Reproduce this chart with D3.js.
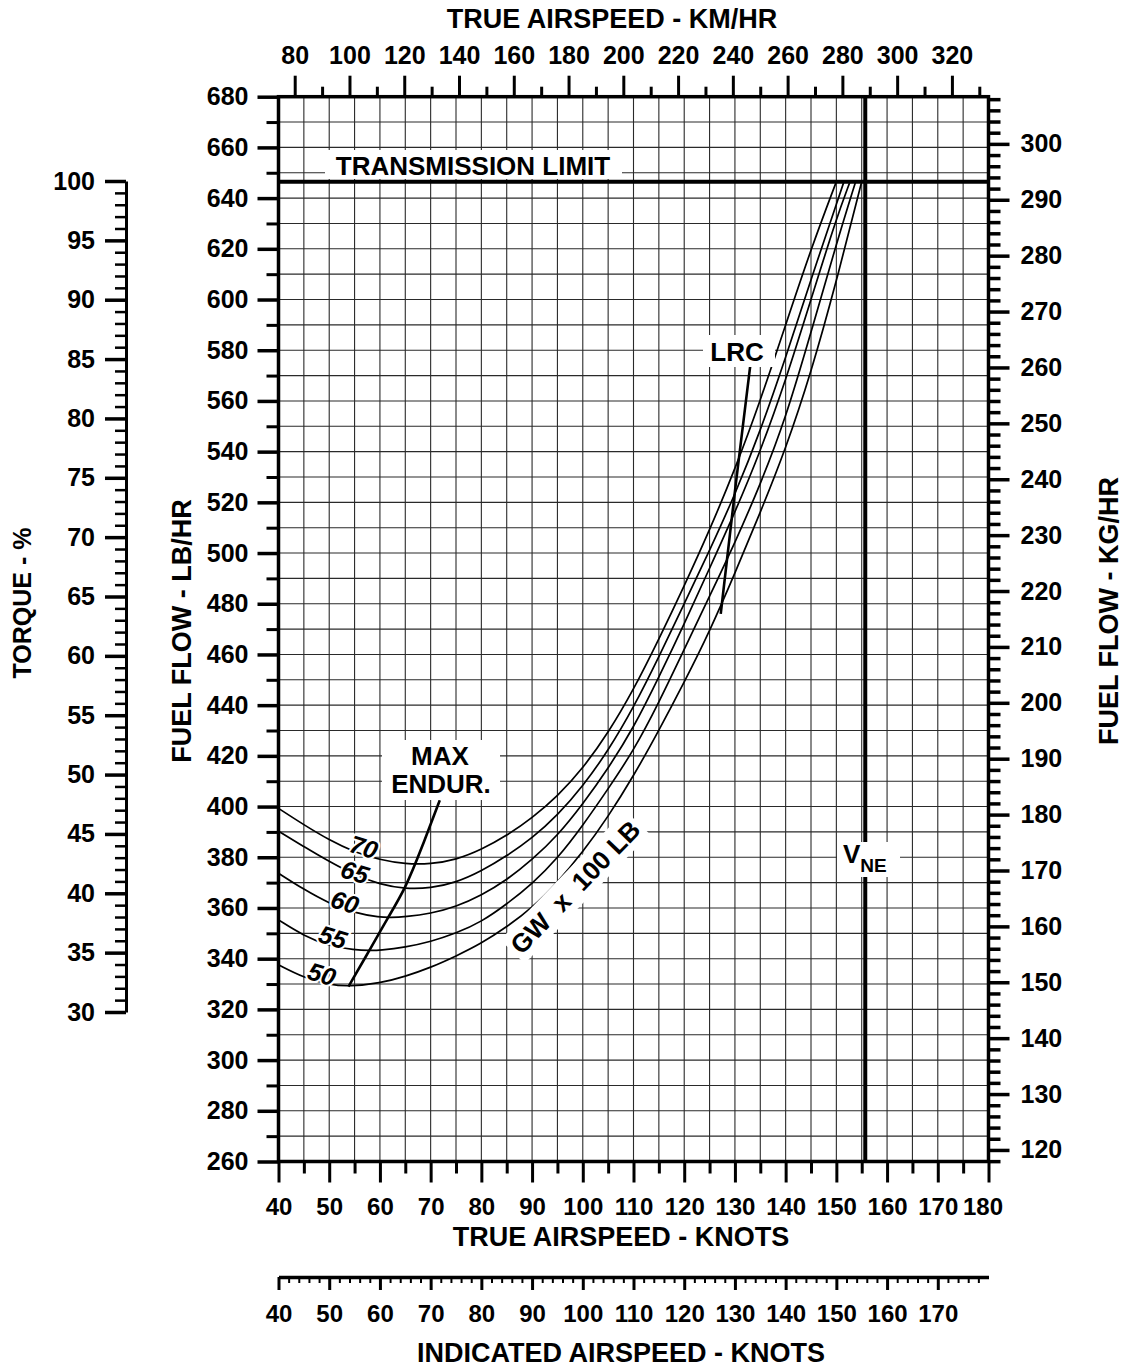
<!DOCTYPE html>
<html>
<head>
<meta charset="utf-8">
<script src="https://cdn.jsdelivr.net/npm/d3@7"></script>
<style>
  body { margin: 0; background: #fff; }
</style>
</head>
<body>
<div id="canvas"></div>
<script>
"use strict";

/* Data: fuel flow (lb/hr) against true airspeed (knots) */
let gw50 = [[40,337.6],[45,332.5],[50,329.7],[54,329],[60,330.3],[65,333],[70,336.5],[75,341],[80,346],[85,352.5],[90,360],[95,370],[100,382],[105,396],[110,412],[115,430],[120,449],[125,469],[130,492],[135,516],[140,541],[145,571],[150,607],[155,646.5]];
let gw55 = [[40,355.3],[45,349],[50,345],[55,343.5],[58,343.2],[60,343.3],[65,344.5],[70,346.7],[75,350],[80,354.5],[85,361.5],[90,369.5],[95,379.5],[100,392.5],[105,407],[110,422],[115,441],[120,462],[125,483],[130,504],[135,527],[140,553],[145,587],[150,622],[153.8,646.5]];
let gw60 = [[40,373.7],[45,367.3],[50,361.8],[55,358],[60,356.3],[62,356.2],[65,356.5],[70,357.8],[75,360.5],[80,365],[85,371],[90,379],[95,388.5],[100,401],[105,415],[110,431],[115,451],[120,472],[125,494],[130,516],[135,540],[140,568],[145,600],[150,632],[152.7,646.5]];
let gw65 = [[40,390.3],[45,384.2],[50,378.3],[55,373],[60,369.3],[65,367.5],[70,367.8],[75,370],[80,374.5],[85,380.5],[90,387.5],[95,396.5],[100,408],[105,422],[110,439],[115,459],[120,480],[125,501],[130,523],[135,548],[140,577],[145,608],[151.5,646.5]];
let gw70 = [[40,399.3],[45,392.8],[50,386.8],[55,382],[60,379],[65,377.3],[70,377.3],[75,379],[80,383],[85,388.5],[90,395.5],[95,404],[100,415],[105,429],[110,446],[115,466],[120,487],[125,509],[130,533],[135,560],[140,590],[145,620],[150,646.5]];
let gwCurves = [gw50, gw55, gw60, gw65, gw70];
let gwNames = ["50", "55", "60", "65", "70"];

let maxEndur = [[53.8,329],[58,343.5],[61.5,356],[65,367.5],[68.3,384],[71.8,402.5]];
let lrc = [[127.2,476],[130.3,530],[133,573.5]];
let transmissionLimit = 646.5; // lb/hr
let vne = 155.7;               // knots

/* Tick labels */
let fuelLabels = [260,280,300,320,340,360,380,400,420,440,460,480,500,520,540,560,580,600,620,640,660,680];
let kgLabels = [120,130,140,150,160,170,180,190,200,210,220,230,240,250,260,270,280,290,300];
let torqueLabels = [30,35,40,45,50,55,60,65,70,75,80,85,90,95,100];
let kmhLabels = [80,100,120,140,160,180,200,220,240,260,280,300,320];
let tasLabels = [40,50,60,70,80,90,100,110,120,130,140,150,160,170,180];
let iasLabels = [40,50,60,70,80,90,100,110,120,130,140,150,160,170];

/* Drawing configuration */
let svgWidth = 1124;
let svgHeight = 1367;
let fontFamily = "'Liberation Sans', Arial, sans-serif";

let svg = d3.select("#canvas")
  .append("svg")
  .attr("width", svgWidth)
  .attr("height", svgHeight)
  .attr("font-family", fontFamily)
  .attr("font-weight", "bold");

/* Scales */
let x = d3.scaleLinear().domain([40, 180]).range([278.5, 988.5]);
let y = d3.scaleLinear().domain([260, 680]).range([1161.5, 96.7]);
let xKmh = d3.scaleLinear().domain([40 * 1.852, 180 * 1.852]).range(x.range());
let yKg = d3.scaleLinear().domain([260 * 0.45359, 680 * 0.45359]).range(y.range());
let yTorque = d3.scaleLinear().domain([30, 100]).range([1012, 181]);
let xIas = x.copy(); // indicated airspeed scale sits on the same spacing

/* Grid */
let grid = svg.append("g")
  .attr("stroke", "#2a2a2a")
  .attr("stroke-width", 1.1);

grid.selectAll(".vgrid")
  .data(d3.range(45, 180, 5))
  .join("line")
  .attr("x1", d => x(d)).attr("x2", d => x(d))
  .attr("y1", y(680)).attr("y2", y(260));

grid.selectAll(".hgrid")
  .data(d3.range(270, 680, 10))
  .join("line")
  .attr("x1", x(40)).attr("x2", x(180))
  .attr("y1", d => y(d)).attr("y2", d => y(d));

/* Axes helper */
function drawAxis(axis, transform, tickWidth, fontSize) {
  let g = svg.append("g")
    .attr("transform", transform)
    .call(axis);
  g.attr("font-family", fontFamily)
    .attr("font-size", fontSize)
    .attr("font-weight", "bold");
  g.selectAll(".tick line")
    .attr("stroke", "black")
    .attr("stroke-width", tickWidth);
  g.selectAll(".tick text").attr("fill", "black");
  return g;
}

// left fuel flow (lb/hr)
drawAxis(d3.axisLeft(y).tickValues(fuelLabels).tickSize(21).tickPadding(9), `translate(${x(40)},0)`, 3.5, 25)
  .select(".domain").remove();
drawAxis(d3.axisLeft(y).tickValues(d3.range(270, 680, 20)).tickSize(12).tickFormat(""), `translate(${x(40)},0)`, 3, 25)
  .select(".domain").remove();

// right fuel flow (kg/hr)
drawAxis(d3.axisRight(yKg).tickValues(kgLabels).tickSize(21).tickPadding(11), `translate(${x(180)},0)`, 3.5, 25)
  .select(".domain").remove();
drawAxis(d3.axisRight(yKg).tickValues(d3.range(118, 309, 2).filter(d => d % 10 !== 0)).tickSize(12).tickFormat(""), `translate(${x(180)},0)`, 3.5, 25)
  .select(".domain").remove();

// top true airspeed (km/hr)
drawAxis(d3.axisTop(xKmh).tickValues(kmhLabels).tickSize(21).tickPadding(12), `translate(0,${y(680)})`, 3, 25)
  .select(".domain").remove();
drawAxis(d3.axisTop(xKmh).tickValues(d3.range(90, 331, 20)).tickSize(10).tickFormat(""), `translate(0,${y(680)})`, 3, 25)
  .select(".domain").remove();

// bottom true airspeed (knots)
let tasAxis = drawAxis(d3.axisBottom(x).tickValues(tasLabels).tickSize(21).tickPadding(15), `translate(0,${y(260)})`, 3, 24);
tasAxis.select(".domain").remove();
tasAxis.selectAll(".tick text").filter(d => d === 180).attr("dx", -6);
drawAxis(d3.axisBottom(x).tickValues(d3.range(45, 180, 10)).tickSize(12).tickFormat(""), `translate(0,${y(260)})`, 3, 25)
  .select(".domain").remove();

// torque (%)
let torqueAxis = drawAxis(d3.axisLeft(yTorque).tickValues(torqueLabels).tickSize(21).tickPadding(10).tickSizeOuter(0), "translate(126,0)", 3.5, 25);
torqueAxis.select(".domain").attr("stroke", "black").attr("stroke-width", 3);
drawAxis(d3.axisLeft(yTorque).tickValues(d3.range(31, 100).filter(d => d % 5 !== 0)).tickSize(11).tickFormat(""), "translate(126,0)", 2.5, 25)
  .select(".domain").remove();

// indicated airspeed (knots)
let iasY = 1277;
let iasAxis = drawAxis(d3.axisBottom(xIas).tickValues(iasLabels).tickSize(13).tickPadding(15).tickSizeOuter(0), `translate(0,${iasY})`, 3, 24);
iasAxis.select(".domain").attr("stroke", "black").attr("stroke-width", 3.5);
drawAxis(d3.axisBottom(xIas).tickValues(d3.range(42, 179, 2).filter(d => d % 10 !== 0)).tickSize(6).tickFormat(""), `translate(0,${iasY})`, 2, 25)
  .select(".domain").remove();

/* Gross weight curves */
let line = d3.line()
  .x(d => x(d[0]))
  .y(d => y(d[1]))
  .curve(d3.curveBasis);

svg.append("g")
  .selectAll("path")
  .data(gwCurves)
  .join("path")
  .attr("d", line)
  .attr("fill", "none")
  .attr("stroke", "black")
  .attr("stroke-width", 1.7);

svg.append("path") // max endurance line
  .attr("d", line(maxEndur))
  .attr("fill", "none")
  .attr("stroke", "black")
  .attr("stroke-width", 2.6);

svg.append("path") // long range cruise line
  .attr("d", line(lrc))
  .attr("fill", "none")
  .attr("stroke", "black")
  .attr("stroke-width", 2.6);

/* Limits */
svg.append("line")
  .attr("x1", x(40)).attr("x2", x(180))
  .attr("y1", y(transmissionLimit)).attr("y2", y(transmissionLimit))
  .attr("stroke", "black")
  .attr("stroke-width", 4);

svg.append("line")
  .attr("x1", x(vne)).attr("x2", x(vne))
  .attr("y1", y(680)).attr("y2", y(260))
  .attr("stroke", "black")
  .attr("stroke-width", 4);

/* Frame */
svg.append("rect")
  .attr("x", x(40))
  .attr("y", y(680))
  .attr("width", x(180) - x(40))
  .attr("height", y(260) - y(680))
  .attr("fill", "none")
  .attr("stroke", "black")
  .attr("stroke-width", 3.5);

/* Annotations with white boxes */
function whiteBox(x0, y0, x1, y1) {
  svg.append("rect")
    .attr("x", x0).attr("y", y0)
    .attr("width", x1 - x0).attr("height", y1 - y0)
    .attr("fill", "white");
}

whiteBox(325, 150, 622, 179);
svg.append("text")
  .attr("x", 473).attr("y", 175)
  .attr("text-anchor", "middle")
  .attr("font-size", 26)
  .text("TRANSMISSION LIMIT");

whiteBox(703, 335, 775, 367);
svg.append("text")
  .attr("x", 737).attr("y", 361)
  .attr("text-anchor", "middle")
  .attr("font-size", 26)
  .text("LRC");

whiteBox(382, 740, 500, 800);
svg.append("text")
  .attr("x", 440).attr("y", 765)
  .attr("text-anchor", "middle")
  .attr("font-size", 26)
  .text("MAX");
svg.append("text")
  .attr("x", 441).attr("y", 793)
  .attr("text-anchor", "middle")
  .attr("font-size", 26)
  .text("ENDUR.");

whiteBox(837, 842, 900, 877);
let vneText = svg.append("text")
  .attr("x", 843).attr("y", 863)
  .attr("font-size", 26);
vneText.append("tspan").text("V");
vneText.append("tspan").attr("font-size", 19).attr("dy", 8.5).text("NE");

let gwLabel = svg.append("g")
  .attr("transform", "translate(575,887) rotate(-46)");
gwLabel.append("rect")
  .attr("x", -90).attr("y", -17)
  .attr("width", 180).attr("height", 34)
  .attr("fill", "white");
gwLabel.append("text")
  .attr("text-anchor", "middle")
  .attr("dy", "0.36em")
  .attr("font-size", 26)
  .attr("xml:space", "preserve")
  .text("GW  x  100 LB");

/* Curve labels (GW x 100 lb) */
let labelSpots = [[322, 974], [333, 937], [345, 902], [355, 872], [364, 847]];
svg.append("g")
  .selectAll("text")
  .data(gwNames)
  .join("text")
  .attr("transform", (d, i) => `translate(${labelSpots[i][0]},${labelSpots[i][1]}) rotate(17)`)
  .attr("text-anchor", "middle")
  .attr("dy", "0.36em")
  .attr("font-size", 25)
  .attr("font-style", "italic")
  .attr("stroke", "white")
  .attr("stroke-width", 4)
  .attr("paint-order", "stroke")
  .text(d => d);

/* Axis titles */
svg.append("text")
  .attr("x", 612).attr("y", 28)
  .attr("text-anchor", "middle")
  .attr("font-size", 27)
  .text("TRUE AIRSPEED - KM/HR");

svg.append("text")
  .attr("x", 621).attr("y", 1246)
  .attr("text-anchor", "middle")
  .attr("font-size", 27)
  .text("TRUE AIRSPEED - KNOTS");

svg.append("text")
  .attr("x", 621).attr("y", 1362)
  .attr("text-anchor", "middle")
  .attr("font-size", 27)
  .text("INDICATED AIRSPEED - KNOTS");

svg.append("text")
  .attr("transform", "translate(22,603) rotate(-90)")
  .attr("text-anchor", "middle")
  .attr("dy", "0.36em")
  .attr("font-size", 25)
  .text("TORQUE - %");

svg.append("text")
  .attr("transform", "translate(181,631) rotate(-90)")
  .attr("text-anchor", "middle")
  .attr("dy", "0.36em")
  .attr("font-size", 27)
  .text("FUEL FLOW - LB/HR");

svg.append("text")
  .attr("transform", "translate(1108,611) rotate(-90)")
  .attr("text-anchor", "middle")
  .attr("dy", "0.36em")
  .attr("font-size", 27)
  .text("FUEL FLOW - KG/HR");
</script>
</body>
</html>
